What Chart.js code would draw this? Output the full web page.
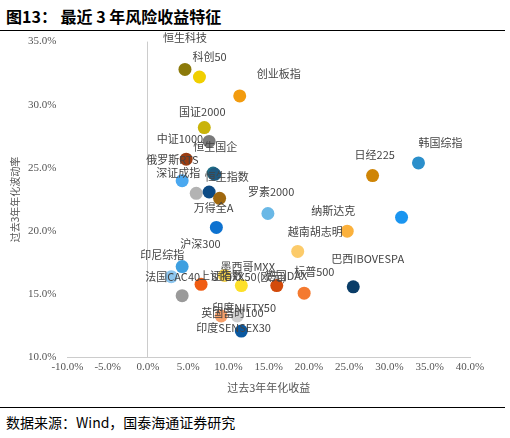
<!DOCTYPE html><html><head><meta charset="utf-8">
<script src="https://cdn.jsdelivr.net/npm/chart.js@4"></script>
<style>body{margin:0;width:510px;height:438px;background:#fff;font-family:"Noto Sans CJK SC";position:relative;overflow:hidden}
#t{position:absolute;left:6px;top:4px;font-size:16px;font-weight:bold;color:#000}
#l1{position:absolute;left:0;top:30px;width:505px;border-top:1px solid #000}
#l2{position:absolute;left:0;top:407px;width:505px;border-top:1px solid #000}
#s{position:absolute;left:6px;top:412px;font-size:14px;font-family:"Noto Sans CJK SC"}
#c{position:absolute;left:0;top:32px;width:510px;height:374px}</style></head><body>
<div id="t">图13： 最近 3 年风险收益特征</div><div id="l1"></div>
<div id="c"><canvas id="cv"></canvas></div><div id="l2"></div>
<div id="s">数据来源：Wind，国泰海通证券研究</div>
<script>
const names=["恒生科技","科创50","创业板指","国证2000","中证1000","俄罗斯RTS","恒生国企","深证成指","恒生指数","","","万得全A","罗素2000","沪深300","印尼综指","法国CAC40","上证指数","墨西哥MXX","STOXX50(欧元)","","英国富时100","印度NIFTY50","印度SENSEX30","德国DAX","标普500","越南胡志明","纳斯达克","","巴西IBOVESPA","日经225","韩国综指"];
const returns=[4.6,6.4,11.4,7.0,7.6,4.75,8.1,4.25,8.3,6.0,7.6,8.9,14.9,8.5,4.25,2.9,6.6,9.5,11.6,4.25,9.1,11.1,11.6,16.0,19.4,18.6,24.75,31.5,25.5,27.9,33.6];
const vols=[32.8,32.2,30.7,28.2,27.1,25.7,24.6,24.0,24.5,23.0,23.1,22.6,21.4,20.3,17.2,16.4,15.8,16.5,15.7,14.9,13.3,13.3,12.1,15.7,15.1,18.4,20.0,21.1,15.6,24.4,25.4];
const colors=["#8c7a0a","#f0cf00","#f29b0e","#c9b30a","#7a7a7a","#9a3d12","#1f6d86","#4aa8f0","#1f5a80","#b3b3b3","#0c4a84","#a0680e","#6ab8e6","#0e72d0","#3d9fe0","#8dc6ef","#f05c12","#f3d14a","#fde02a","#9a9a9a","#f7a06a","#d0d0d0","#0a58a0","#d24a0a","#f47a30","#fccb6a","#fbb13c","#1a95f0","#0a3d68","#cf8506","#2b8fcb"];
const offs=[[0,-32,"c"],[-7,-20,"l"],[17,-22,"l"],[-2,-16,"c"],[-6,-3,"r"],[-40,1,"l"],[-20,-26,"l"],[-4,-8,"c"],[-10,2,"l"],[0,0,""],[0,0,""],[-6,9,"c"],[-20,-22,"l"],[-36,16,"l"],[-42,-12,"l"],[-26,0,"l"],[-2,-8,"l"],[-4,-9,"l"],[-30,-9,"l"],[0,0,""],[-20,-3,"l"],[-25,-8,"l"],[-45,-3,"l"],[-12,-10,"l"],[-10,-21,"l"],[-10,-20,"l"],[-36,-20,"l"],[0,0,""],[-22,-28,"l"],[-18,-21,"l"],[0,-20,"l"]];
const lab={id:"lab",afterDatasetsDraw(ch){const c=ch.ctx,m=ch.getDatasetMeta(0);c.save();c.font="11px 'Noto Sans CJK SC'";c.fillStyle="#444";c.textBaseline="middle";
m.data.forEach((p,i)=>{if(!names[i])return;const o=offs[i];c.textAlign=o[2]=="c"?"center":o[2]=="r"?"right":"left";c.fillText(names[i],p.x+o[0],p.y+o[1]);});c.restore();}};
new Chart(document.getElementById("cv"),{type:"scatter",data:{datasets:[{data:returns.map((x,i)=>({x,y:vols[i]})),backgroundColor:colors,borderWidth:0,pointRadius:6.5,pointHoverRadius:6.5}]},
options:{responsive:true,maintainAspectRatio:false,animation:false,layout:{padding:{left:5,right:40,top:2,bottom:8}},plugins:{legend:{display:false},tooltip:{enabled:false}},
scales:{x:{min:-10,max:40,ticks:{stepSize:5,callback:v=>v.toFixed(1)+"%",color:"#555",font:{family:"Liberation Serif",size:11}},grid:{color:c=>c.tick.value===0?"#ccc":"transparent",drawTicks:false},border:{color:"#ccc"},title:{display:true,text:"过去3年年化收益",color:"#555",font:{size:11,family:"Noto Sans CJK SC"}}},
y:{min:10,max:35,ticks:{stepSize:5,callback:v=>v.toFixed(1)+"%",color:"#555",font:{family:"Liberation Serif",size:11}},grid:{display:false},border:{display:false},title:{display:true,text:"过去3年年化波动率",color:"#555",font:{size:10,family:"Noto Sans CJK SC"}}}}},plugins:[lab]});
</script></body></html>
